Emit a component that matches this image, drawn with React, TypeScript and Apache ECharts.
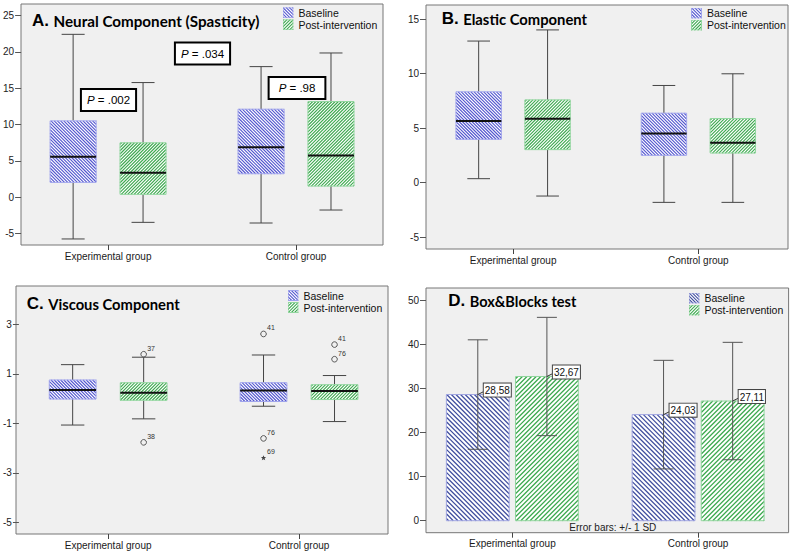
import React, { useEffect, useRef } from 'react';
import * as echarts from 'echarts';

// ---------------- DATA ----------------
const groups = ['Experimental group', 'Control group'];
const seriesNames = ['Baseline', 'Post-intervention'];

// Box plots: [lower whisker, Q1, median, Q3, upper whisker] per group
const neuralBaseline = [[-5.78, 2.02, 5.55, 10.5, 22.43], [-3.58, 3.21, 6.88, 12.11, 17.98]];
const neuralPost = [[-3.49, 0.37, 3.35, 7.48, 15.78], [-1.79, 1.51, 5.73, 13.17, 19.86]];
const neuralTicks = [-5, 25, 5];
const neuralPValues = ['.002', '.034', '.98'];

const elasticBaseline = [[0.37, 3.98, 5.66, 8.33, 12.98], [-1.8, 2.51, 4.5, 6.37, 8.91]];
const elasticPost = [[-1.22, 3.03, 5.85, 7.59, 14.0], [-1.8, 2.72, 3.67, 5.88, 9.98]];
const elasticTicks = [-5, 15, 5];

const viscousBaseline = [[-1.07, -0.02, 0.35, 0.75, 1.37], [-0.31, -0.12, 0.33, 0.64, 1.76]];
const viscousPost = [[-0.82, -0.07, 0.23, 0.64, 1.67], [-0.93, -0.04, 0.31, 0.56, 0.93]];
const viscousTicks = [-5, 3, 2];
// [group index, series index (0 baseline, 1 post), value, case id, extreme (1 = star)]
const viscousOutliers = [
  [0, 1, 1.79, 37, 0],
  [0, 1, -1.77, 38, 0],
  [1, 0, 2.61, 41, 0],
  [1, 0, -1.61, 76, 0],
  [1, 0, -2.4, 69, 1],
  [1, 1, 2.18, 41, 0],
  [1, 1, 1.59, 76, 0],
];

const bbMeanBaseline = [28.58, 24.03];
const bbMeanPost = [32.67, 27.11];
const bbSdBaseline = [12.4, 12.3];
const bbSdPost = [13.4, 13.3];
const bbTicks = [0, 50, 10];

const panelLetters = ['A.', 'B.', 'C.', 'D.'];
const panelNames = ['Neural Component (Spasticity)', 'Elastic Component', 'Viscous Component', 'Box&Blocks test'];
const errorBarNote = 'Error bars: +/- 1 SD';

// ---------------- LAYOUT ----------------
// frame: [left, top, right, bottom]; tickPx: pixel y of [max tick, min tick]; catPx: centres of categories
const panelLayout = [
  { frame: [21, 4, 383, 245], tickPx: [15.7, 233.3], catPx: [108, 296], title: [32, 20.5], titleW: 206, legend: [282.5, 7.3] },
  { frame: [426, 5, 788, 249], tickPx: [19, 237.3], catPx: [514, 701], title: [441.7, 18.3], titleW: 124, legend: [691, 7.5] },
  { frame: [16, 286, 388, 534], tickPx: [324.3, 522.3], catPx: [106, 298.3], title: [26.7, 303.3], titleW: 131.7, legend: [287.5, 290] },
  { frame: [426, 288, 788.6, 532.7], tickPx: [300, 520.7], catPx: [513.3, 701], title: [448.3, 300], titleW: 106.7, legend: [688.5, 292.5] },
];
const panelTicks = [neuralTicks, elasticTicks, viscousTicks, bbTicks];
const pBoxPos = [[108.5, 100, [4, 5]], [202.5, 53.5, [4, 5]], [297, 88, [4, 9]]];

const FONT = '"Liberation Sans", Arial, sans-serif';
const TITLE_FONT = 'Lato, "Open Sans", sans-serif';
const TITLE_SIZE = 16;
const TITLE_NAME_DX = 21.5;

const BOX_OFFSET = 0.186;
const BOX_HALF = 0.1225;
const BAR_OFFSET = 0.186;
const BAR_HALF = 0.169;

type Hatch = { dir: number; stroke: string; border: string; step: number; width: number };
const baseBoxHatch: Hatch = { dir: -1, stroke: '#5558cf', border: '#a0a4ec', step: 3.2, width: 1.15 };
const postBoxHatch: Hatch = { dir: 1, stroke: '#3fa951', border: '#92d69f', step: 3.2, width: 1.15 };
const baseBarHatch: Hatch = { dir: -1, stroke: '#42509f', border: '#9ea3e0', step: 4.6, width: 1.3 };
const postBarHatch: Hatch = { dir: 1, stroke: '#3da94f', border: '#8fd49c', step: 4.6, width: 1.3 };

function measureWidth(text: string, font: string) {
  try {
    const c = document.createElement('canvas');
    const ctx = c.getContext('2d');
    if (!ctx) return 0;
    ctx.font = font;
    return ctx.measureText(text).width;
  } catch (e) {
    return 0;
  }
}

function hatchPath(x: number, y: number, w: number, h: number, step: number, dir: number) {
  const parts: string[] = [];
  const f = (v: number) => v.toFixed(2);
  if (dir < 0) {
    for (let c = -h + step * 0.5; c < w; c += step) {
      const x1 = Math.max(0, c), x2 = Math.min(w, h + c);
      if (x2 - x1 < 0.01) continue;
      parts.push(`M${f(x + x1)} ${f(y + x1 - c)}L${f(x + x2)} ${f(y + x2 - c)}`);
    }
  } else {
    for (let c = step * 0.5; c < w + h; c += step) {
      const x1 = Math.max(0, c - h), x2 = Math.min(w, c);
      if (x2 - x1 < 0.01) continue;
      parts.push(`M${f(x + x1)} ${f(y + c - x1)}L${f(x + x2)} ${f(y + c - x2)}`);
    }
  }
  return parts.join('');
}

function hatchedRect(x: number, y: number, w: number, h: number, hs: Hatch) {
  return [
    { type: 'rect', shape: { x, y, width: w, height: h }, style: { fill: '#ffffff', stroke: 'none' } },
    {
      type: 'path',
      shape: { pathData: hatchPath(x, y, w, h, hs.step, hs.dir) },
      style: { fill: 'none', stroke: hs.stroke, lineWidth: hs.width },
    },
    { type: 'rect', shape: { x, y, width: w, height: h }, style: { fill: 'none', stroke: hs.border, lineWidth: 1 } },
  ];
}

function legendIcon(hs: Hatch) {
  const d = hatchPath(0, 0, 11, 11, 3.2, hs.dir);
  const svg = `<svg xmlns="http://www.w3.org/2000/svg" width="11" height="11" viewBox="0 0 11 11"><rect x="0" y="0" width="11" height="11" fill="#ffffff"/><path d="${d}" stroke="${hs.stroke}" stroke-width="1.1" fill="none"/><rect x="0.5" y="0.5" width="10" height="10" fill="none" stroke="${hs.border}"/></svg>`;
  return 'image://data:image/svg+xml;charset=utf-8,' + encodeURIComponent(svg);
}

const WHISKER = '#454545';

const makeBoxRender = (side: number, hs: Hatch) => (_params: any, api: any) => {
  const cat = api.value(0);
  const lo = api.value(1), q1 = api.value(2), med = api.value(3), q3 = api.value(4), hi = api.value(5);
  const band = api.size([1, 0])[0];
  const cx = api.coord([cat, med])[0] + side * band * BOX_OFFSET;
  const hw = band * BOX_HALF;
  const Y = (v: number) => api.coord([cat, v])[1];
  const yLo = Y(lo), yQ1 = Y(q1), yMed = Y(med), yQ3 = Y(q3), yHi = Y(hi);
  const cap = hw / 2;
  const ln = (x1: number, y1: number, x2: number, y2: number, stroke = WHISKER, lw = 1) => ({
    type: 'line', shape: { x1, y1, x2, y2 }, style: { stroke, lineWidth: lw },
  });
  return {
    type: 'group',
    children: [
      ln(cx, yHi, cx, yQ3),
      ln(cx, yQ1, cx, yLo),
      ln(cx - cap, yHi, cx + cap, yHi),
      ln(cx - cap, yLo, cx + cap, yLo),
      ...hatchedRect(cx - hw, yQ3, hw * 2, yQ1 - yQ3, hs),
      ln(cx - hw, yMed, cx + hw, yMed, '#111', 2),
    ],
  };
};

const makeBarRender = (side: number, hs: Hatch) => (_params: any, api: any) => {
  const cat = api.value(0), mean = api.value(1), sd = api.value(2);
  const band = api.size([1, 0])[0];
  const cx = api.coord([cat, 0])[0] + side * band * BAR_OFFSET;
  const hw = band * BAR_HALF;
  const y0 = api.coord([cat, 0])[1];
  const yT = api.coord([cat, mean])[1];
  const yHi = api.coord([cat, mean + sd])[1];
  const yLo = api.coord([cat, mean - sd])[1];
  const cap = 10;
  const ln = (x1: number, y1: number, x2: number, y2: number) => ({
    type: 'line', shape: { x1, y1, x2, y2 }, style: { stroke: '#555', lineWidth: 1 },
  });
  return {
    type: 'group',
    children: [
      ...hatchedRect(cx - hw, yT, hw * 2, y0 - yT, hs),
      ln(cx, yHi, cx, yLo),
      ln(cx - cap, yHi, cx + cap, yHi),
      ln(cx - cap, yLo, cx + cap, yLo),
      { type: 'line', shape: { x1: cx, y1: yT, x2: cx + 6, y2: yT - 3 }, style: { stroke: '#333', lineWidth: 1 } },
      {
        type: 'text',
        x: cx + 6,
        y: yT + 2,
        style: {
          text: mean.toFixed(2).replace('.', ','),
          fontSize: 10,
          fontFamily: FONT,
          fill: '#111',
          align: 'left',
          verticalAlign: 'bottom',
          backgroundColor: '#ffffff',
          borderColor: '#444',
          borderWidth: 1,
          padding: [2, 1, 1, 1],
        },
      },
    ],
  };
};

const outlierRender = (_params: any, api: any) => {
  const cat = api.value(0), side = api.value(1) === 0 ? -1 : 1, v = api.value(2);
  const id = api.value(3), extreme = api.value(4);
  const band = api.size([1, 0])[0];
  const [px, py] = api.coord([cat, v]);
  const cx = px + side * band * BOX_OFFSET;
  let mark: any;
  if (extreme) {
    const pts: number[][] = [];
    for (let k = 0; k < 10; k++) {
      const r = k % 2 === 0 ? 2.8 : 1.2;
      const a = -Math.PI / 2 + (k * Math.PI) / 5;
      pts.push([cx + r * Math.cos(a), py + r * Math.sin(a)]);
    }
    mark = { type: 'polygon', shape: { points: pts }, style: { fill: '#444', stroke: 'none' } };
  } else {
    mark = { type: 'circle', shape: { cx, cy: py, r: 2.8 }, style: { fill: 'none', stroke: '#555', lineWidth: 1 } };
  }
  return {
    type: 'group',
    children: [
      mark,
      {
        type: 'text', x: cx + 3.5, y: py - 6,
        style: { text: String(id), fontSize: 7, fontFamily: FONT, fill: '#333', align: 'left', verticalAlign: 'middle' },
      },
    ],
  };
};

function buildOption() {
  const grid: any[] = [];
  const xAxis: any[] = [];
  const yAxis: any[] = [];
  const legend: any[] = [];
  const graphic: any[] = [];

  panelLayout.forEach((p, i) => {
    const [fl, ft, fr, fb] = p.frame;
    const [tTop, tBottom] = p.tickPx;
    const [c1, c2] = p.catPx;
    const [tMin, tMax, tInt] = panelTicks[i];
    const pLeft = c1 - (c2 - c1) / 2;
    const pWidth = 2 * (c2 - c1);
    // frame grid
    grid.push({
      left: fl, top: ft, width: fr - fl, height: fb - ft,
      show: true, backgroundColor: '#f0f0f0', borderColor: '#777777', borderWidth: 1, z: 0,
    });
    xAxis.push({ gridIndex: 2 * i, type: 'value', show: false });
    yAxis.push({ gridIndex: 2 * i, type: 'value', show: false });
    // plot grid
    grid.push({ left: pLeft, top: tTop, width: pWidth, height: tBottom - tTop, show: false });
    xAxis.push({
      gridIndex: 2 * i + 1,
      type: 'category',
      data: groups,
      offset: fb - tBottom,
      axisLine: { show: false, onZero: false },
      axisTick: { show: true, alignWithLabel: true, length: 5, lineStyle: { color: '#444' } },
      axisLabel: { fontSize: 10, color: '#1a1a1a', margin: 6, fontFamily: FONT },
      splitLine: { show: false },
    });
    yAxis.push({
      gridIndex: 2 * i + 1,
      type: 'value',
      min: tMin,
      max: tMax,
      interval: tInt,
      offset: pLeft - fl,
      axisLine: { show: false, onZero: false },
      axisTick: { show: true, length: 6, lineStyle: { color: '#555' } },
      axisLabel: { fontSize: 10, color: '#222', margin: 7, fontFamily: FONT },
      splitLine: { show: false },
    });
    const isBar = i === 3;
    legend.push({
      left: p.legend[0], top: p.legend[1], orient: 'vertical', padding: 0,
      itemWidth: 11, itemHeight: 11, itemGap: 1, selectedMode: false,
      textStyle: { fontSize: 10.5, color: '#111', fontFamily: FONT },
      data: [
        { name: seriesNames[0], icon: legendIcon(isBar ? baseBarHatch : baseBoxHatch) },
        { name: seriesNames[1], icon: legendIcon(isBar ? postBarHatch : postBoxHatch) },
      ],
    });
    graphic.push({
      type: 'text', x: p.title[0], y: p.title[1], z: 100,
      style: {
        text: panelLetters[i], verticalAlign: 'middle',
        fontFamily: FONT, fontWeight: 'bold', fontSize: 17, fill: '#000',
      },
    });
    const natural = measureWidth(panelNames[i], `bold ${TITLE_SIZE}px ${TITLE_FONT}`);
    const sx = natural > 0 ? Math.min(1.1, Math.max(0.7, p.titleW / natural)) : 0.85;
    graphic.push({
      type: 'text', x: p.title[0] + TITLE_NAME_DX, y: p.title[1] + 0.5, z: 100, scaleX: sx,
      style: {
        text: panelNames[i], verticalAlign: 'middle',
        fontFamily: TITLE_FONT, fontWeight: 'bold', fontSize: TITLE_SIZE, fill: '#000',
      },
    });
  });

  neuralPValues.forEach((pv, k) => {
    const [x, y, pad] = pBoxPos[k] as any;
    graphic.push({
      type: 'text', x, y, z: 100,
      style: {
        text: `{i|P} = ${pv}`,
        fontSize: 11.5, fontFamily: FONT, fill: '#000',
        align: 'center', verticalAlign: 'middle',
        backgroundColor: '#ffffff', borderColor: '#000', borderWidth: 2, padding: pad,
        rich: { i: { fontStyle: 'italic', fontSize: 11.5, fontFamily: FONT, fill: '#000' } },
      },
    });
  });

  graphic.push({
    type: 'text', x: 612.8, y: 527.5, z: 100,
    style: { text: errorBarNote, fontSize: 10, fontFamily: FONT, fill: '#222', align: 'center', verticalAlign: 'middle' },
  });

  const boxSeries = (panel: number, name: string, side: number, data: number[][], hs: Hatch) => ({
    type: 'custom', name, xAxisIndex: 2 * panel + 1, yAxisIndex: 2 * panel + 1,
    data: data.map((d, k) => [k, ...d]),
    encode: { x: 0, y: [1, 2, 3, 4, 5] },
    renderItem: makeBoxRender(side, hs), silent: true, z: 3,
  });
  const barSeries = (name: string, side: number, means: number[], sds: number[], hs: Hatch) => ({
    type: 'custom', name, xAxisIndex: 7, yAxisIndex: 7,
    data: means.map((m, k) => [k, m, sds[k]]),
    encode: { x: 0, y: 1 },
    renderItem: makeBarRender(side, hs), silent: true, z: 3,
  });

  const series: any[] = [
    boxSeries(0, seriesNames[0], -1, neuralBaseline, baseBoxHatch),
    boxSeries(0, seriesNames[1], 1, neuralPost, postBoxHatch),
    boxSeries(1, seriesNames[0], -1, elasticBaseline, baseBoxHatch),
    boxSeries(1, seriesNames[1], 1, elasticPost, postBoxHatch),
    boxSeries(2, seriesNames[0], -1, viscousBaseline, baseBoxHatch),
    boxSeries(2, seriesNames[1], 1, viscousPost, postBoxHatch),
    {
      type: 'custom', name: 'Outliers', xAxisIndex: 5, yAxisIndex: 5,
      data: viscousOutliers, encode: { x: 0, y: 2 },
      renderItem: outlierRender, silent: true, z: 4,
    },
    barSeries(seriesNames[0], -1, bbMeanBaseline, bbSdBaseline, baseBarHatch),
    barSeries(seriesNames[1], 1, bbMeanPost, bbSdPost, postBarHatch),
  ];

  return {
    animation: false,
    backgroundColor: '#ffffff',
    textStyle: { fontFamily: FONT },
    grid, xAxis, yAxis, legend, graphic, series,
  };
}

export default function App() {
  const ref = useRef<HTMLDivElement>(null);
  useEffect(() => {
    if (!ref.current) return;
    const chart = echarts.init(ref.current, null, { renderer: 'svg' });
    chart.setOption(buildOption() as any);
    return () => chart.dispose();
  }, []);
  return (
    <div
      ref={ref}
      style={{ position: 'absolute', left: 0, top: 0, width: 791, height: 553, background: '#fff' }}
    />
  );
}
